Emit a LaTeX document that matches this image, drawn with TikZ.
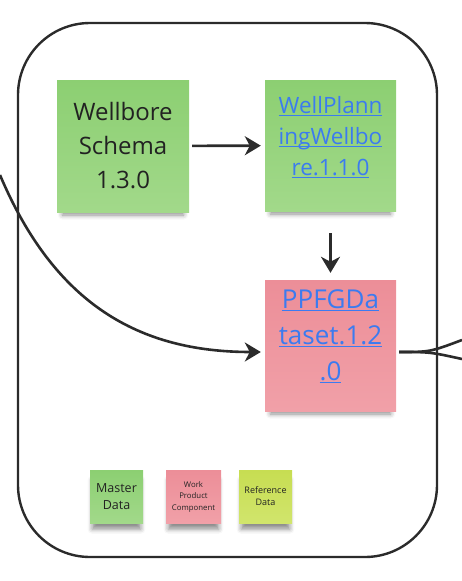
\documentclass[tikz,border=0pt]{standalone}
\usepackage{fontspec}
\setmainfont{Open Sans}
\usepackage{tikz}
\usetikzlibrary{arrows.meta,shadows.blur}
\definecolor{inkgray}{HTML}{222222}
\definecolor{linegray}{HTML}{2B2B2B}
\definecolor{linkblue}{HTML}{3B7BF0}
\definecolor{greentop}{HTML}{8CCF72}
\definecolor{greenbot}{HTML}{A2D98A}
\definecolor{pinktop}{HTML}{EC8E98}
\definecolor{pinkbot}{HTML}{F1A0A8}
\definecolor{limetop}{HTML}{C7DD52}
\definecolor{limebot}{HTML}{D1E56C}
\newcommand{\lnk}[1]{\textcolor{linkblue}{\underline{\smash{#1}}}}

\begin{document}
\begin{tikzpicture}[x=1pt,y=-1pt,
    sticky/.style={minimum width=#1,minimum height=#1,inner sep=0pt,align=center,text=inkgray,
      blur shadow={shadow xshift=0pt,shadow yshift=-9pt,shadow opacity=45,shadow blur radius=5pt,shadow scale=0.92}},
    greennote/.style={top color=greentop,bottom color=greenbot},
    pinknote/.style={top color=pinktop,bottom color=pinkbot},
    limenote/.style={top color=limetop,bottom color=limebot},
    flow/.style={draw=linegray,line width=2.6pt,-{Stealth[length=16pt,width=19pt,inset=5pt]}},
    wire/.style={draw=linegray,line width=2.6pt}]
    \useasboundingbox (0,0) rectangle (462,581);
    \draw[draw=linegray,line width=2.4pt,rounded corners=72pt] (18,23) rectangle (437,557);

    \node[sticky=132pt,greennote,font={\fontsize{24}{34}\selectfont}] (wellbore) at (123,146) {Wellbore\\Schema\\1.3.0};
    \node[sticky=131pt,greennote,font={\fontsize{22.5}{31}\selectfont}] (planning) at (330.5,145.5) {\lnk{WellPlann}\\\lnk{ingWellbo}\\\lnk{re.1.1.0}};
    \node[sticky=131pt,pinknote,font={\fontsize{26}{36}\selectfont}] (ppfg) at (330.5,345.5) {\lnk{PPFGDa}\\\lnk{taset.1.2}\\\lnk{.0}};

    \node[sticky=53pt,greennote,font={\fontsize{12.5}{17}\selectfont}] (master) at (116.5,496.5) {Master\\Data};
    \node[sticky=53pt,minimum width=55pt,pinknote,font={\fontsize{7.8}{11.5}\selectfont}] (wpc) at (193.5,496.5) {Work\\Product\\Component};
    \node[sticky=53pt,limenote,font={\fontsize{9}{12}\selectfont}] (refdata) at (265.5,496.5) {Reference\\Data};

    \coordinate (from) at (0,175);
    \coordinate (outA) at (462,340);
    \coordinate (outB) at (462,359);

    \draw[flow,shorten <=3pt,shorten >=4pt] (wellbore) -- (planning);
    \draw[flow,shorten <=22pt,shorten >=7pt] (planning) -- (ppfg);
    \draw[flow,shorten >=4pt] (from) .. controls (55,305) and (140,352) .. ([yshift=-6.5pt]ppfg.west);
    \draw[wire] ([xshift=3pt,yshift=-6.5pt]ppfg.east) .. controls (430,352) .. (outA);
    \draw[wire] ([xshift=3pt,yshift=-6.5pt]ppfg.east) .. controls (430,352) .. (outB);
  \end{tikzpicture}
\end{document}
